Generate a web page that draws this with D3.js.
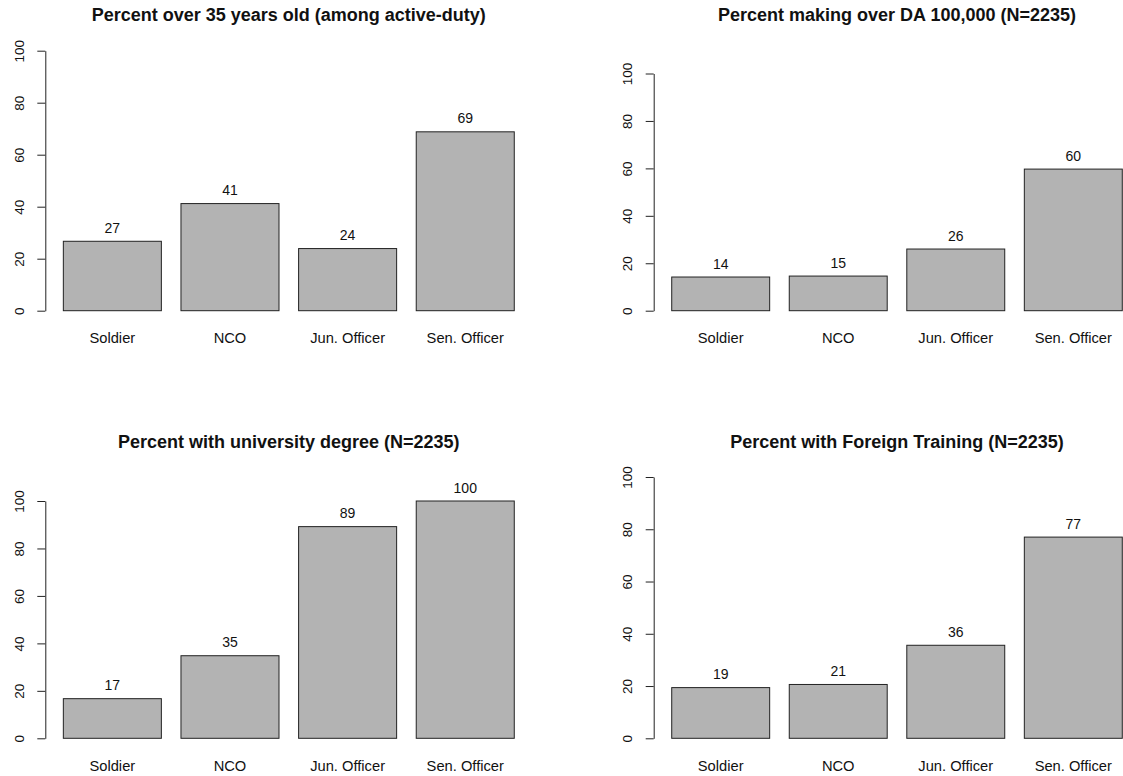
<!DOCTYPE html>
<html>
<head>
<meta charset="utf-8">
<script src="https://cdn.jsdelivr.net/npm/d3@7"></script>
<style>
  html, body { margin: 0; padding: 0; background: #fff; overflow: hidden; }
  svg { display: block; }
  text { font-family: "Liberation Sans", Arial, Helvetica, sans-serif; fill: #111; }
</style>
</head>
<body>
<svg id="chart" width="1123" height="776"></svg>
<script>
// ---- data ----
const categories = ["Soldier", "NCO", "Jun. Officer", "Sen. Officer"];
const titles = [
  "Percent over 35 years old (among active-duty)",
  "Percent making over DA 100,000 (N=2235)",
  "Percent with university degree (N=2235)",
  "Percent with Foreign Training (N=2235)"
];
const over35Values = [26.7, 41.2, 23.9, 68.8];
const over100kValues = [14.2, 14.6, 26.0, 59.7];
const universityValues = [16.7, 34.8, 89.2, 100];
const foreignTrainingValues = [19.4, 20.6, 35.6, 77.0];
const yTickValues = [0, 20, 40, 60, 80, 100];

// ---- layout ----
const layout = [
  { left: 45.3,  right: 532.3,  y0: 310.7, y100: 50.7, titleY: 20.5,  catY: 343 },
  { left: 653.7, right: 1140.3, y0: 310.7, y100: 73.5, titleY: 20.5,  catY: 343 },
  { left: 45.3,  right: 532.3,  y0: 738.3, y100: 501,  titleY: 447.8, catY: 770.5 },
  { left: 653.7, right: 1140.3, y0: 738.3, y100: 477,  titleY: 447.8, catY: 770.5 }
];
const seriesList = [over35Values, over100kValues, universityValues, foreignTrainingValues];

const svg = d3.select("#chart");
svg.append("rect").attr("width", 1123).attr("height", 776).attr("fill", "#fff");

seriesList.forEach((values, i) => {
  const L = layout[i];
  const g = svg.append("g");
  // user-units -> pixels (R barplot: width 1, space 0.2, xlim extended 4%)
  const u = d3.scaleLinear().domain([0.016, 4.984]).range([L.left, L.right]);
  const x = d3.scaleBand().domain(categories)
    .range([u(0.1), u(4.9)])
    .paddingInner(1 / 6).paddingOuter(1 / 12);
  const y = d3.scaleLinear().domain([0, 100]).range([L.y0, L.y100]);

  // bars
  g.selectAll("rect.bar").data(values).enter().append("rect")
    .attr("class", "bar")
    .attr("x", (d, j) => x(categories[j]))
    .attr("width", x.bandwidth())
    .attr("y", d => y(d))
    .attr("height", d => y(0) - y(d))
    .attr("fill", "#b3b3b3")
    .attr("stroke", "#222")
    .attr("stroke-width", 1);

  // value labels
  g.selectAll("text.val").data(values).enter().append("text")
    .attr("class", "val")
    .attr("x", (d, j) => x(categories[j]) + x.bandwidth() / 2)
    .attr("y", d => y(d) - 8.5)
    .attr("text-anchor", "middle")
    .style("font-size", "14px")
    .text(d => Math.round(d));

  // category labels
  g.selectAll("text.cat").data(categories).enter().append("text")
    .attr("class", "cat")
    .attr("x", d => x(d) + x.bandwidth() / 2)
    .attr("y", L.catY)
    .attr("text-anchor", "middle")
    .style("font-size", "14.7px")
    .text(d => d);

  // y axis
  const ax = g.append("g")
    .attr("transform", `translate(${L.left},0)`)
    .call(d3.axisLeft(y).tickValues(yTickValues).tickSize(8).tickSizeOuter(0));
  ax.select(".domain").attr("stroke", "#222");
  ax.selectAll(".tick line").attr("stroke", "#222");
  ax.selectAll(".tick text")
    .attr("transform", "rotate(-90)")
    .attr("x", 0)
    .attr("y", -21.5)
    .attr("dy", null)
    .attr("text-anchor", "middle")
    .attr("fill", "#111")
    .style("font-family", '"Liberation Sans", Arial, Helvetica, sans-serif')
    .style("font-size", "13.5px");

  // title
  g.append("text")
    .attr("x", (u(0.2) + u(4.8)) / 2)
    .attr("y", L.titleY)
    .attr("text-anchor", "middle")
    .style("font-size", "18px")
    .style("font-weight", "bold")
    .text(titles[i]);
});
</script>
</body>
</html>
